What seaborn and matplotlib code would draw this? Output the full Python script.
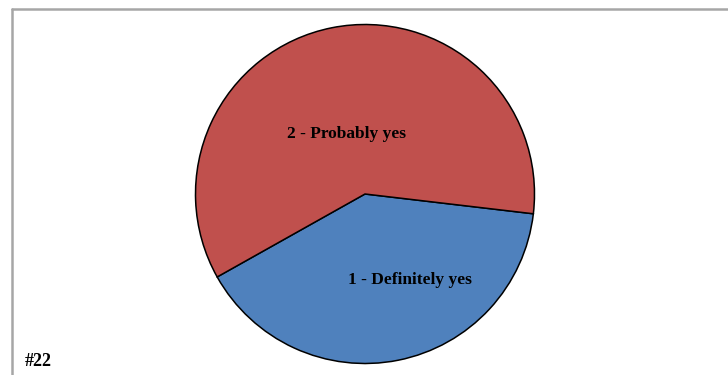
import matplotlib
matplotlib.use("Agg")
import matplotlib.pyplot as plt
from matplotlib.lines import Line2D
import seaborn as sns

sns.set_style("white")
plt.rcParams["font.family"] = ["Liberation Serif", "DejaVu Serif"]

# Survey answers and their shares (percent)
categories = ["1 - Definitely yes", "2 - Probably yes"]
shares = [40, 60]
slice_colors = ["#4F81BD", "#C0504D"]
chart_tag = "#22"

W, H = 728, 375
fig = plt.figure(figsize=(W / 100, H / 100), dpi=100)

# Pie axes: centre (365, 194) px, radius ~169.5 px
cx, cy, r = 365, 194, 169.5
pad = 2
side = 2 * (r + pad)
ax = fig.add_axes([(cx - r - pad) / W, (H - cy - r - pad) / H, side / W, side / H])
lim = (r + pad) / r
ax.set_aspect("equal")
ax.axis("off")

wedges, _ = ax.pie(
    shares,
    colors=slice_colors,
    startangle=-6.7,
    counterclock=False,
    radius=1.0,
    wedgeprops=dict(edgecolor="black", linewidth=1.1),
)
ax.set_xlim(-lim, lim)
ax.set_ylim(-lim, lim)

# Slice labels, placed inside each wedge
label_pos = {
    "1 - Definitely yes": (0.265, -0.507),
    "2 - Probably yes": (-0.112, 0.354),
}
for name in categories:
    x, y = label_pos[name]
    ax.text(x, y, name, ha="center", va="center", fontsize=12.5,
            fontweight="bold", color="black")

# Chart identifier in the lower-left corner
fig.text(25 / W, 1 - 362 / H, chart_tag, ha="left", va="center",
         fontsize=13, fontweight="bold", color="black")

# Grey frame along the top and left edges
frame_color = "#A6A6A6"
fig.add_artist(Line2D([11.5 / W, 1], [1 - 8.5 / H, 1 - 8.5 / H],
                      transform=fig.transFigure, color=frame_color, linewidth=1.8))
fig.add_artist(Line2D([11.5 / W, 11.5 / W], [0, 1 - 8.5 / H],
                      transform=fig.transFigure, color=frame_color, linewidth=1.8))

fig.savefig("out.png", dpi=100, facecolor="white")
